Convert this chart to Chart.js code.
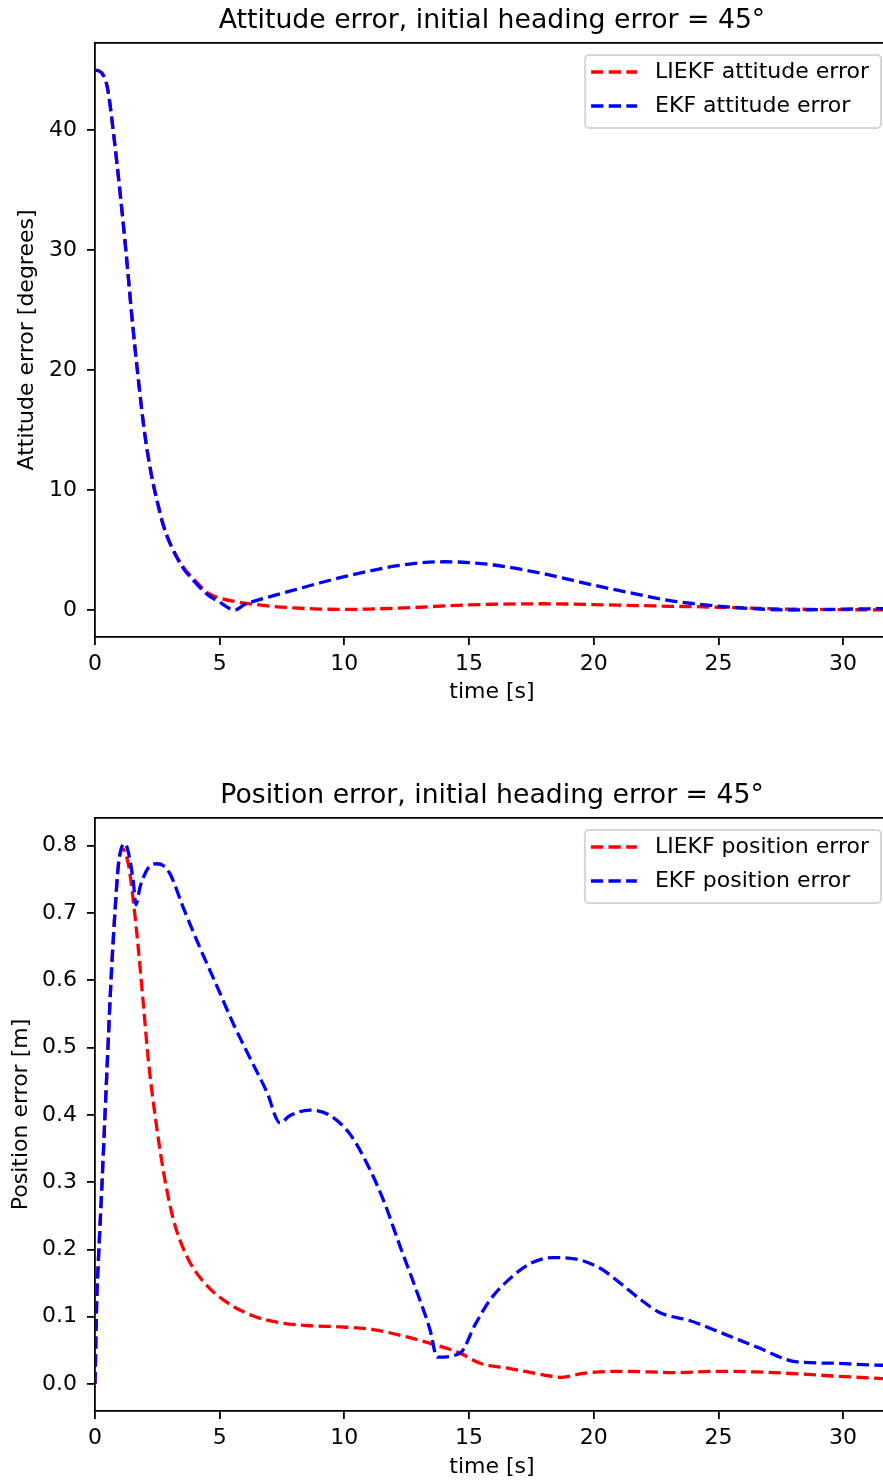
<!DOCTYPE html>
<html>
<head>
<meta charset="utf-8">
<title>Attitude and position error</title>
<script src="https://cdn.jsdelivr.net/npm/chart.js@4.4.1/dist/chart.umd.min.js"></script>
<style>
  html, body { margin: 0; padding: 0; background: #fff; }
  .panel { width: 883px; height: 742px; }
</style>
</head>
<body>
<div class="panel"><canvas id="attChart" width="883" height="742"></canvas></div>
<div class="panel"><canvas id="posChart" width="883" height="742"></canvas></div>
<script>
// tick values
const xTicks = [0, 5, 10, 15, 20, 25, 30];
const attTicks = [0, 10, 20, 30, 40];
const posTicks = [0.0, 0.1, 0.2, 0.3, 0.4, 0.5, 0.6, 0.7, 0.8];

// attitude error [deg], both filters on the same time grid
const attTime = [0, 0.25, 0.5, 0.75, 1.0, 1.25, 1.5, 1.75, 2.0, 2.25, 2.5, 2.75, 3.0, 3.5, 4.0, 4.5, 5.0, 5.6, 6, 7, 8, 9, 10, 11, 12, 13, 14, 15, 16, 17, 18, 19, 20, 21, 22, 23, 24, 25, 26, 27, 28, 29, 30, 31, 32];
const attLiekf = [45.0, 44.8, 43.5, 39.6, 34.9, 29.7, 24.0, 19.0, 14.6, 11.4, 9.0, 7.0, 5.6, 3.7, 2.5, 1.45, 1.0, 0.72, 0.58, 0.33, 0.17, 0.08, 0.05, 0.08, 0.14, 0.23, 0.34, 0.42, 0.48, 0.51, 0.52, 0.5, 0.45, 0.4, 0.36, 0.31, 0.28, 0.23, 0.17, 0.11, 0.07, 0.05, 0.03, 0.01, 0.0];
const attEkf = [45.0, 44.8, 43.5, 39.6, 34.9, 29.7, 24.0, 19.0, 14.6, 11.4, 9.0, 7.0, 5.6, 3.6, 2.35, 1.3, 0.65, 0.0, 0.45, 1.1, 1.67, 2.25, 2.78, 3.25, 3.65, 3.92, 4.02, 3.95, 3.75, 3.42, 3.02, 2.55, 2.07, 1.63, 1.2, 0.8, 0.53, 0.32, 0.16, 0.05, 0.0, 0.03, 0.07, 0.1, 0.13];

// position error [m]
const posTimeLiekf = [0, 0.07, 0.13, 0.27, 0.40, 0.53, 0.63, 0.80, 0.94, 1.1, 1.34, 1.54, 1.74, 1.94, 2.14, 2.41, 2.74, 3.14, 3.68, 4.35, 5.15, 6.22, 7.29, 8.49, 9.83, 11.16, 12.5, 13.57, 14.64, 15.44, 16.65, 18.25, 18.65, 19.59, 20.93, 22.26, 23.33, 24.94, 26.54, 28.28, 29.6, 31.6, 32];
const posLiekf = [0, 0.125, 0.179, 0.289, 0.399, 0.509, 0.591, 0.701, 0.772, 0.795, 0.772, 0.717, 0.646, 0.564, 0.481, 0.399, 0.317, 0.245, 0.190, 0.152, 0.125, 0.103, 0.092, 0.087, 0.085, 0.081, 0.070, 0.059, 0.046, 0.031, 0.023, 0.012, 0.010, 0.016, 0.019, 0.018, 0.017, 0.019, 0.018, 0.015, 0.012, 0.008, 0.007];
const posTimeEkf = [0, 0.07, 0.13, 0.27, 0.40, 0.53, 0.63, 0.80, 0.94, 1.2, 1.38, 1.54, 1.64, 1.81, 2.14, 2.47, 2.75, 3.01, 3.54, 4.21, 4.88, 5.55, 6.22, 6.89, 7.42, 7.82, 8.62, 9.43, 10.23, 10.9, 11.57, 12.23, 12.9, 13.44, 13.72, 14.64, 15.24, 15.84, 16.65, 17.45, 18.37, 19.25, 20.26, 21.06, 21.86, 22.66, 23.87, 25.2, 26.54, 28.15, 29.6, 31.6, 32];
const posEkf = [0, 0.125, 0.179, 0.289, 0.399, 0.509, 0.591, 0.701, 0.772, 0.803, 0.783, 0.745, 0.712, 0.739, 0.767, 0.773, 0.770, 0.758, 0.708, 0.648, 0.592, 0.535, 0.484, 0.434, 0.388, 0.399, 0.407, 0.399, 0.371, 0.328, 0.273, 0.205, 0.138, 0.080, 0.040, 0.046, 0.088, 0.125, 0.157, 0.179, 0.188, 0.186, 0.172, 0.150, 0.126, 0.106, 0.094, 0.075, 0.055, 0.033, 0.031, 0.028, 0.028];

const FONT = '"DejaVu Sans", sans-serif';
const DASH = [12.3, 5.3];
const LW = 3.3;

const pairs = (ts, vs) => ts.map((t, i) => ({ x: t, y: vs[i] }));

const line = (label, color, data, order) => ({
  label: label,
  data: data,
  borderColor: color,
  borderWidth: LW,
  borderDash: DASH,
  pointRadius: 0,
  fill: false,
  cubicInterpolationMode: "monotone",
  order: order,
});

// titles, axis labels and the legend box
const decoPlugin = {
  id: "deco",
  afterDraw(chart, args, o) {
    const ctx = chart.ctx;
    const ca = chart.chartArea;
    ctx.save();
    ctx.fillStyle = "#000";

    ctx.font = "26.7px " + FONT;
    ctx.textAlign = "center";
    ctx.textBaseline = "alphabetic";
    ctx.fillText(o.title, o.centerX, o.titleY);

    ctx.font = "22px " + FONT;
    ctx.textBaseline = "middle";
    ctx.fillText(o.xLabel, o.centerX, o.xLabelY);

    ctx.save();
    ctx.translate(o.yLabelX, (ca.top + ca.bottom) / 2);
    ctx.rotate(-Math.PI / 2);
    ctx.fillText(o.yLabel, 0, 0);
    ctx.restore();

    // legend
    const items = chart.data.datasets;
    const textW = Math.max(...items.map(d => ctx.measureText(d.label).width));
    const right = ca.right - 2;
    const w = 6 + 46 + 18 + textW + 12;
    const left = right - w;
    const top = ca.top + 12;
    const rowH = 34;
    const h = rowH * items.length + 5;
    ctx.beginPath();
    ctx.roundRect(left, top, w, h, 4);
    ctx.fillStyle = "rgba(255,255,255,0.8)";
    ctx.fill();
    ctx.lineWidth = 2;
    ctx.strokeStyle = "#d6d6d6";
    ctx.stroke();

    items.forEach((d, i) => {
      const y = top + 17 + i * rowH;
      ctx.beginPath();
      ctx.setLineDash(DASH);
      ctx.lineWidth = LW;
      ctx.strokeStyle = d.borderColor;
      ctx.moveTo(left + 6, y);
      ctx.lineTo(left + 52, y);
      ctx.stroke();
      ctx.setLineDash([]);
      ctx.fillStyle = "#000";
      ctx.textAlign = "left";
      ctx.fillText(d.label, left + 70, y);
    });
    ctx.restore();
  },
};

function makeChart(id, c) {
  return new Chart(document.getElementById(id), {
    type: "line",
    data: { datasets: c.datasets },
    plugins: [decoPlugin],
    options: {
      responsive: false,
      devicePixelRatio: 1,
      animation: false,
      events: [],
      layout: { padding: { top: c.padTop, left: 0, right: 0, bottom: 0 } },
      plugins: {
        legend: { display: false },
        title: { display: false },
        tooltip: { enabled: false },
        deco: c.deco,
      },
      scales: {
        x: {
          type: "linear",
          position: "bottom",
          min: 0,
          max: 31.6,
          afterBuildTicks: s => { s.ticks = xTicks.map(v => ({ value: v })); },
          afterFit: s => { s.height = c.xAxisH; },
          ticks: {
            autoSkip: false,
            maxRotation: 0,
            padding: 6,
            color: "#000",
            font: { family: FONT, size: 22 },
            callback: v => String(v),
          },
          grid: { drawOnChartArea: false, drawTicks: true, tickLength: 8, color: "#000", lineWidth: 1.8 },
          border: { display: true, color: "#000", width: 1.8 },
        },
        xTop: {
          type: "linear",
          position: "top",
          min: 0,
          max: 31.6,
          afterFit: s => { s.height = 0; },
          ticks: { display: false },
          grid: { display: false, drawTicks: false },
          border: { display: true, color: "#000", width: 1.8 },
        },
        y: {
          type: "linear",
          min: c.yMin,
          max: c.yMax,
          afterBuildTicks: s => { s.ticks = c.yTicks.map(v => ({ value: v })); },
          afterFit: s => { s.width = 95; },
          ticks: {
            autoSkip: false,
            padding: 10,
            color: "#000",
            font: { family: FONT, size: 22 },
            callback: v => v.toFixed(c.yDec),
          },
          grid: { drawOnChartArea: false, drawTicks: true, tickLength: 8, color: "#000", lineWidth: 1.8 },
          border: { display: true, color: "#000", width: 1.8 },
        },
      },
    },
  });
}

makeChart("attChart", {
  datasets: [
    line("LIEKF attitude error", "#ff0000", pairs(attTime, attLiekf), 1),
    line("EKF attitude error", "#0000ff", pairs(attTime, attEkf), 0),
  ],
  padTop: 43,
  xAxisH: 105,
  yMin: -2.25,
  yMax: 47.25,
  yTicks: attTicks,
  yDec: 0,
  deco: {
    title: "Attitude error, initial heading error = 45°",
    xLabel: "time [s]",
    yLabel: "Attitude error [degrees]",
    centerX: 492,
    titleY: 28,
    xLabelY: 692,
    yLabelX: 27,
  },
});

makeChart("posChart", {
  datasets: [
    line("LIEKF position error", "#ff0000", pairs(posTimeLiekf, posLiekf), 1),
    line("EKF position error", "#0000ff", pairs(posTimeEkf, posEkf), 0),
  ],
  padTop: 76,
  xAxisH: 73,
  yMin: -0.040,
  yMax: 0.841,
  yTicks: posTicks,
  yDec: 1,
  deco: {
    title: "Position error, initial heading error = 45°",
    xLabel: "time [s]",
    yLabel: "Position error [m]",
    centerX: 492,
    titleY: 61,
    xLabelY: 725,
    yLabelX: 21,
  },
});
</script>
</body>
</html>
